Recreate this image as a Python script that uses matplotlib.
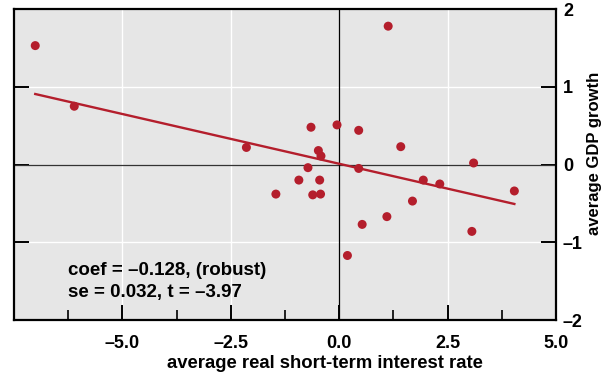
import numpy as np
import matplotlib
matplotlib.use("Agg")
import matplotlib.pyplot as plt
from matplotlib.ticker import FixedLocator, FuncFormatter

plt.rcParams['font.family'] = ['Liberation Sans', 'DejaVu Sans']
plt.rcParams['font.weight'] = 'bold'
plt.rcParams['axes.labelweight'] = 'bold'

# average real short-term interest rate vs average GDP growth
rate = [-7.01, -6.11, -2.14, -0.65, -0.72, -0.93, 1.13, -0.05, 0.45, 1.42,
        -0.48, -0.42, 0.45, 3.10, 1.94, 2.32, -0.45, 4.04, -1.46, -0.61,
        -0.43, 1.69, 1.10, 0.53, 3.06, 0.19]
growth = [1.53, 0.75, 0.22, 0.48, -0.04, -0.20, 1.78, 0.51, 0.44, 0.23,
          0.18, 0.11, -0.05, 0.02, -0.20, -0.25, -0.20, -0.34, -0.38, -0.39,
          -0.38, -0.47, -0.67, -0.77, -0.86, -1.17]
coef = -0.128
intercept = 0.01
note = ["coef = \u20130.128, (robust)", "se = 0.032, t = \u20133.97"]
xticks = [-5.0, -2.5, 0.0, 2.5, 5.0]
yticks = [-2, -1, 0, 1, 2]

red = "#B41E2C"
fs = 13

fig = plt.figure(figsize=(6.14, 3.78), dpi=100)
ax = fig.add_axes([0.0228, 0.1534, 0.8827, 0.8226])
ax.set_facecolor("#E6E6E6")

ax.set_xlim(-7.5, 5.0)
ax.set_ylim(-2, 2)

for v in [-5.0, -2.5, 2.5]:
    ax.axvline(v, color="white", lw=1.0, zorder=1)
for v in [-1, 1]:
    ax.axhline(v, color="white", lw=1.0, zorder=1)
ax.axhline(0, color="#333333", lw=0.9, zorder=2)
ax.axvline(0, color="black", lw=0.9, zorder=2)

xs = np.array([min(rate), max(rate)])
ax.plot(xs, intercept + coef * xs, color=red, lw=1.7, zorder=3)
ax.scatter(rate, growth, s=42, color=red, edgecolors="none", zorder=4)

ax.text(-6.25, -1.42, note[0], fontsize=13.5, va="baseline", ha="left")
ax.text(-6.25, -1.70, note[1], fontsize=13.5, va="baseline", ha="left")

dash = lambda v, p: ("%.1f" % v).replace("-", "\u2013")
ax.xaxis.set_major_locator(FixedLocator(xticks))
ax.xaxis.set_minor_locator(FixedLocator([-6.25, -3.75, -1.25, 1.25, 3.75]))
ax.xaxis.set_major_formatter(FuncFormatter(dash))
ax.tick_params(axis="x", which="major", direction="in", length=11, width=1.4,
               labelsize=fs, pad=11)
ax.tick_params(axis="x", which="minor", direction="in", length=7, width=1.2)

ax.yaxis.set_major_locator(FixedLocator(yticks))
ax.yaxis.set_major_formatter(FuncFormatter(lambda v, p: ("%d" % v).replace("-", "\u2013")))
ax.tick_params(axis="y", which="major", direction="in", length=11, width=1.4,
               labelsize=fs, left=True, right=True, labelleft=False, labelright=True, pad=5)

for s in ax.spines.values():
    s.set_linewidth(1.6)

ax.set_xlabel("average real short-term interest rate", fontsize=13.3, labelpad=2)
ax.xaxis.label.set_x(0.574)
ax.yaxis.set_label_position("right")
ax.set_ylabel("average GDP growth", fontsize=12, labelpad=3)
ax.yaxis.label.set_y(0.537)

fig.savefig("out.png", dpi=100)
